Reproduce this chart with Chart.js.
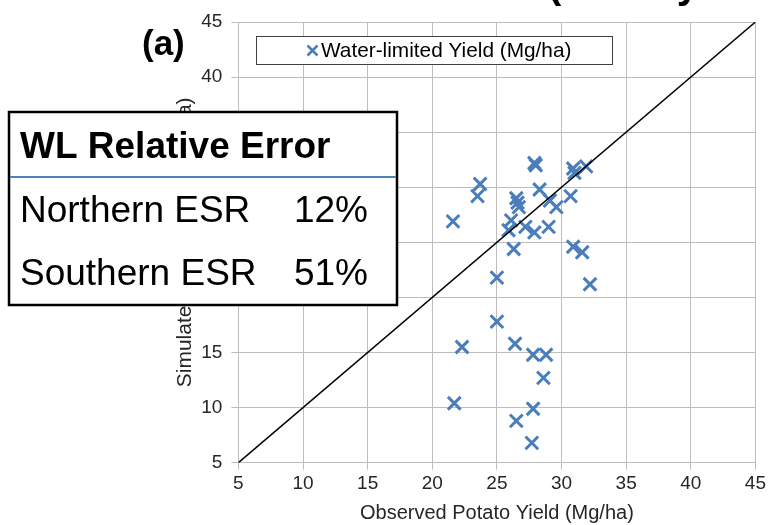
<!DOCTYPE html>
<html><head><meta charset="utf-8">
<script src="https://cdn.jsdelivr.net/npm/chart.js@4.4.1/dist/chart.umd.min.js"></script>
<style>html,body{margin:0;padding:0;background:#fff}canvas{display:block}</style>
</head><body>
<canvas id="c" width="769" height="525"></canvas>
<script>
// ---- data ----
const observedYield  = [21.6, 23.7, 23.5, 27.9, 28.0, 30.9, 31.0, 31.9, 28.3, 30.7, 29.1, 29.6, 26.5, 26.6, 26.7, 26.1, 25.9, 27.2, 27.9, 29.0, 26.3, 30.9, 31.6, 25.0, 32.2, 25.0, 22.3, 26.4, 27.8, 28.8, 28.6, 21.7, 27.8, 26.5, 27.7];
const simulatedYield = [26.9, 30.3, 29.2, 32.2, 32.0, 31.7, 31.3, 31.9, 29.8, 29.2, 28.8, 28.2, 29.0, 28.6, 28.2, 27.0, 26.1, 26.4, 25.9, 26.4, 24.4, 24.6, 24.1, 21.8, 21.2, 17.8, 15.5, 15.8, 14.8, 14.8, 12.7, 10.4, 9.9, 8.8, 6.8];
const oneToOneLine = [5, 45];
const axisTicks = [5, 10, 15, 20, 25, 30, 35, 40, 45];
const seriesLabel = 'Water-limited Yield (Mg/ha)';
const xTitle = 'Observed Potato Yield (Mg/ha)';
const yTitle = 'Simulated Potato Yield (Mg/ha)';
const panelLabel = '(a)';
const headline = '(County-level)';
const tableTitle = 'WL Relative Error';
const regions = ['Northern ESR', 'Southern ESR'];
const relativeErrors = ['12%', '51%'];

// ---- styles ----
const FONT = '"Liberation Sans", Arial, sans-serif';
const BLUE = '#4A7EBB';
const GRID = '#BDBDBD';

const points = observedYield.map((x, i) => ({x, y: simulatedYield[i]}));
const linePts = oneToOneLine.map(v => ({x: v, y: v}));

const overlay = {
  id: 'overlay',
  afterDraw(chart) {
    const ctx = chart.ctx;
    ctx.save();
    ctx.fillStyle = '#000';
    ctx.textBaseline = 'alphabetic';
    // cut-off headline at top
    ctx.font = 'bold 40px ' + FONT;
    ctx.fillText(headline, 548, -2);
    // panel label
    ctx.font = 'bold 35px ' + FONT;
    ctx.fillText(panelLabel, 142, 55);

    // legend box
    ctx.fillStyle = '#fff';
    ctx.fillRect(256, 36, 357, 29);
    ctx.strokeStyle = '#404040';
    ctx.lineWidth = 1;
    ctx.strokeRect(256.5, 36.5, 356, 28);
    const ds = chart.data.datasets[0];
    ctx.strokeStyle = ds.borderColor;
    ctx.lineWidth = 2.5;
    ctx.beginPath();
    const mx = 312.5, my = 50.5, h = 5;
    ctx.moveTo(mx - h, my - h); ctx.lineTo(mx + h, my + h);
    ctx.moveTo(mx - h, my + h); ctx.lineTo(mx + h, my - h);
    ctx.stroke();
    ctx.fillStyle = '#000';
    ctx.font = '20.8px ' + FONT;
    ctx.textBaseline = 'middle';
    ctx.fillText(ds.label, 321, 51);

    // error table
    ctx.textBaseline = 'alphabetic';
    ctx.fillStyle = '#fff';
    ctx.fillRect(9, 112, 388, 193);
    ctx.strokeStyle = '#000';
    ctx.lineWidth = 2.5;
    ctx.strokeRect(9, 112, 388, 193);
    ctx.strokeStyle = '#4F81BD';
    ctx.lineWidth = 2;
    ctx.beginPath();
    ctx.moveTo(10, 177); ctx.lineTo(396, 177);
    ctx.stroke();
    ctx.fillStyle = '#000';
    ctx.font = 'bold 37px ' + FONT;
    ctx.fillText(tableTitle, 20, 158);
    ctx.font = '37px ' + FONT;
    const baselines = [222, 285];
    regions.forEach((r, i) => {
      ctx.textAlign = 'left';
      ctx.fillText(r, 20, baselines[i]);
      ctx.textAlign = 'right';
      ctx.fillText(relativeErrors[i], 368, baselines[i]);
    });
    ctx.restore();
  }
};

new Chart(document.getElementById('c'), {
  type: 'scatter',
  data: {
    datasets: [
      {
        label: seriesLabel,
        data: points,
        pointStyle: 'crossRot',
        pointRadius: 9,
        pointHoverRadius: 9,
        borderColor: BLUE,
        backgroundColor: BLUE,
        pointBorderWidth: 3,
        order: 2
      },
      {
        label: '1:1',
        type: 'line',
        data: linePts,
        borderColor: '#000',
        borderWidth: 1.5,
        pointRadius: 0,
        fill: false,
        order: 1
      }
    ]
  },
  options: {
    responsive: false,
    animation: false,
    devicePixelRatio: 1,
    layout: { padding: { left: 169, right: 13, top: 22, bottom: 0 } },
    plugins: { legend: { display: false }, tooltip: { enabled: false } },
    scales: {
      x: {
        type: 'linear', min: 5, max: 45,
        afterBuildTicks: s => { s.ticks = axisTicks.map(v => ({value: v})); },
        afterFit: s => { s.height = 62.3; },
        ticks: { color: '#262626', font: { family: FONT, size: 19 }, padding: 3, maxRotation: 0 },
        grid: { color: GRID, lineWidth: 1, tickLength: 7, tickColor: GRID },
        border: { color: GRID },
        title: { display: true, text: xTitle, color: '#262626', font: { family: FONT, size: 20 }, padding: { top: 0, bottom: 0 } }
      },
      y: {
        type: 'linear', min: 5, max: 45,
        afterBuildTicks: s => { s.ticks = axisTicks.map(v => ({value: v})); },
        afterFit: s => { s.width = 69.4; },
        ticks: { color: '#262626', font: { family: FONT, size: 19 }, padding: 9 },
        grid: { color: GRID, lineWidth: 1, tickLength: 7, tickColor: GRID },
        border: { color: GRID },
        title: { display: true, text: yTitle, color: '#262626', font: { family: FONT, size: 21 }, padding: { top: 4, bottom: 4 } }
      }
    }
  },
  plugins: [overlay]
});
</script>
</body></html>
